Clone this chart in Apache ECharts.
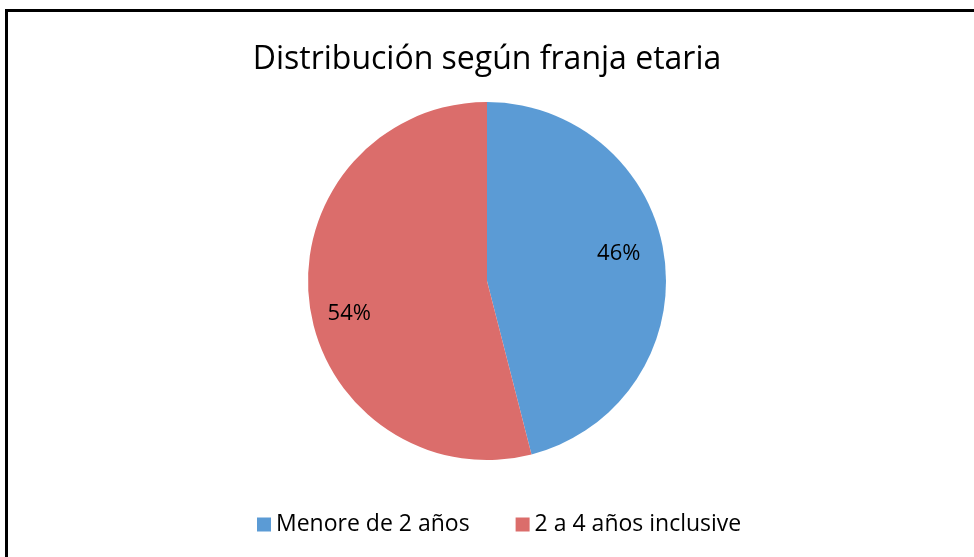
<!DOCTYPE html>
<html>
<head>
<meta charset="utf-8">
<script src="https://cdn.jsdelivr.net/npm/echarts@6/dist/echarts.min.js"></script>
<style>
  html, body { margin: 0; padding: 0; background: #fff; }
  #frame {
    position: absolute; left: 5px; top: 9px;
    width: 990px; height: 570px;
    border: 3px solid #000; box-sizing: border-box;
  }
  #chart { position: absolute; left: 0; top: 0; width: 974px; height: 557px; }
</style>
</head>
<body>
<div id="frame"></div>
<div id="chart"></div>
<script>
const categories = ['Menore de 2 años', '2 a 4 años inclusive']
const values = [46, 54]
const colors = ['#5b9bd5', '#db6d6b']
// push the inside labels outward, like the Excel best-fit spot
const labelOffsets = [[40, -16], [-46, 21]]

const chart = echarts.init(document.getElementById('chart'))
chart.setOption({
  animation: false,
  title: {
    text: 'Distribución según franja etaria',
    left: 'center',
    top: 39,
    textStyle: { fontFamily: 'Open Sans', fontSize: 32, fontWeight: 'normal', color: '#000' }
  },
  legend: {
    top: 508,
    left: 252,
    itemWidth: 14,
    itemHeight: 14,
    itemGap: 46,
    icon: 'rect',
    textStyle: { fontFamily: 'Open Sans', fontSize: 23, color: '#000' }
  },
  series: [{
    type: 'pie',
    center: [487, 281],
    radius: 179,
    startAngle: 90,
    clockwise: true,
    data: categories.map((name, i) => ({
      name,
      value: values[i],
      itemStyle: { color: colors[i] },
      label: { offset: labelOffsets[i] }
    })),
    label: {
      show: true,
      position: 'inside',
      formatter: '{d}%',
      fontFamily: 'Open Sans',
      fontSize: 22,
      color: '#000'
    },
    labelLine: { show: false },
    emphasis: { disabled: true }
  }]
})
</script>
</body>
</html>
